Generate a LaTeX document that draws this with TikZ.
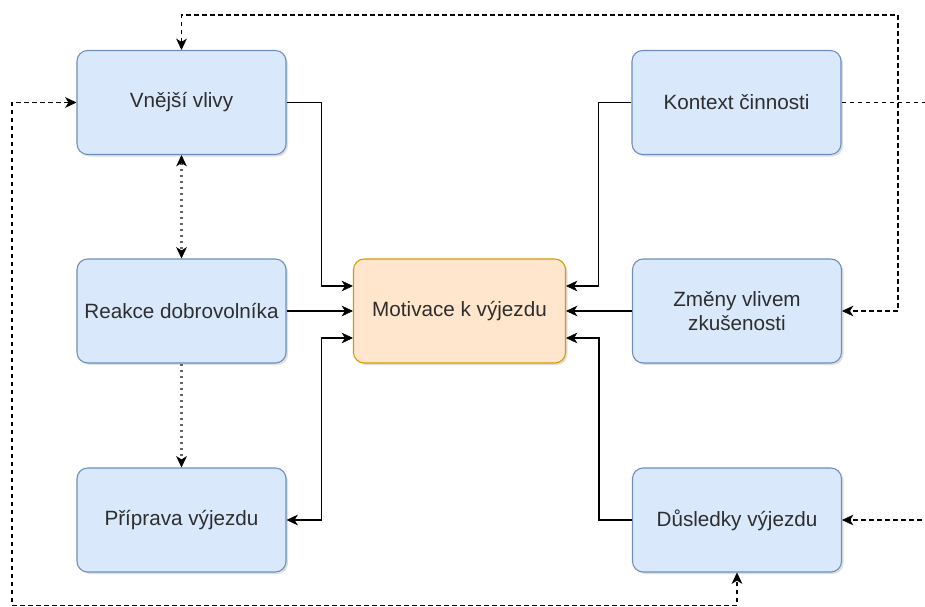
\documentclass[tikz,border=0pt]{standalone}
\usepackage{fontspec}
\setmainfont{Liberation Sans}
\usetikzlibrary{arrows.meta,calc,shadows}

\definecolor{boxfill}{HTML}{DAE8FC}
\definecolor{boxline}{HTML}{6C8EBF}
\definecolor{mainfill}{HTML}{FFE6CC}
\definecolor{mainline}{HTML}{D79B00}
\definecolor{textgray}{HTML}{2E2E2E}

\tikzset{
  box/.style={draw=boxline,fill=boxfill,line width=0.8pt,rounded corners=8pt,
    minimum width=156.75pt,minimum height=78pt,align=center,text=textgray,
    font=\fontsize{15.5}{18.5}\selectfont,
    drop shadow={shadow xshift=1.5pt,shadow yshift=-1.5pt,opacity=0.25}},
  mainbox/.style={box,draw=mainline,fill=mainfill,minimum width=159pt},
  link/.style={draw=black,line width=1pt},
  dashlink/.style={draw=black,line width=0.9pt,dash pattern=on 3.5pt off 2.5pt},
  dotlink/.style={draw=black!60,line width=2.2pt,dash pattern=on 1.8pt off 2.7pt},
  >={Stealth[length=8.5pt,width=8pt,inset=2.5pt,color=black,line width=0.5pt]}
}

\begin{document}
\begin{tikzpicture}[x=0.75pt,y=-0.75pt]
	\useasboundingbox (0,0) rectangle (925,607);
	\clip (0,0) rectangle (925,607);
	% boxes
	\node[box] (vnejsi) at (181.5,102.5) {Vnější vlivy};
	\node[box] (reakce) at (181.5,311) {Reakce dobrovolníka};
	\node[box] (priprava) at (181.5,520) {Příprava výjezdu};
	\node[mainbox] (motivace) at (459.5,311) {Motivace k výjezdu};
	\node[box] (kontext) at (736.5,102.5) {Kontext činnosti};
	\node[box] (zmeny) at (737,311) {Změny vlivem\\zkušenosti};
	\node[box] (dusledky) at (737,520) {Důsledky výjezdu};
	% solid links
	\draw[link,->] (vnejsi.east) -- ++(35,0) |- ($(motivace.west)+(0,-25)$);
	\draw[link,->] (reakce.east) -- (motivace.west);
	\draw[link,<->] (priprava.east) -- ++(35,0) |- ($(motivace.west)+(0,27)$);
	\draw[link,->] (kontext.west) -- ++(-33,0) |- ($(motivace.east)+(0,-25)$);
	\draw[link,->] (zmeny.west) -- (motivace.east);
	\draw[link,->] (dusledky.west) -- ++(-33,0) |- ($(motivace.east)+(0,27)$);
	% dotted links
	\draw[dotlink,<->] (vnejsi.south) -- (reakce.north);
	\draw[dotlink,->] (reakce.south) -- (priprava.north);
	% dashed links
	\coordinate (ne) at (898,15);
	\coordinate (sw) at (12,605.5);
	\coordinate (ee) at (945,102.5);
	\draw[dashlink,<->] (vnejsi.north) |- (ne) |- (zmeny.east);
	\draw[dashlink,<->] (vnejsi.west) -| (sw) -| (dusledky.south);
	\draw[dashlink,->] (kontext.east) -- (ee) |- (dusledky.east);
\end{tikzpicture}
\end{document}
